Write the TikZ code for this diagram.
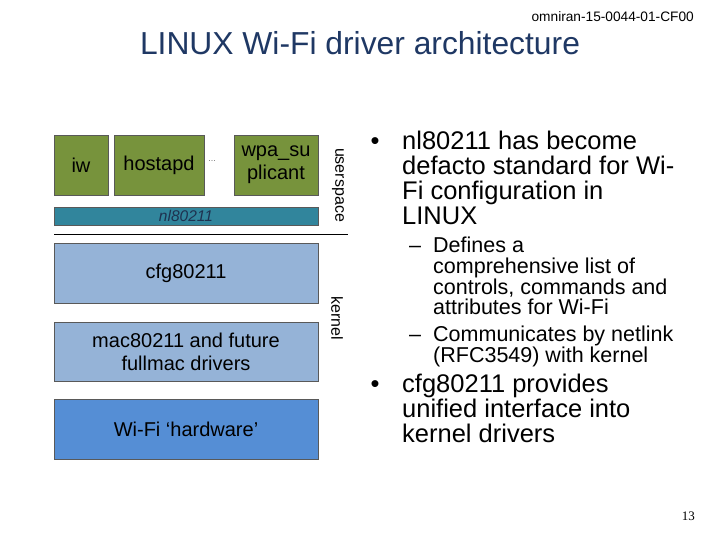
\documentclass[tikz,border=0pt]{standalone}
\usepackage{fontspec}
\setmainfont{Liberation Sans}
\newfontfamily\pagenumfont{Liberation Serif}
\definecolor{olivebox}{RGB}{119,147,60}
\definecolor{tealbar}{RGB}{49,133,156}
\definecolor{lightbluebox}{RGB}{149,179,215}
\definecolor{hwblue}{RGB}{85,142,213}
\definecolor{titleblue}{RGB}{31,56,100}
\definecolor{nltext}{RGB}{30,50,80}
\begin{document}
\begin{tikzpicture}[x=1pt,y=-1pt,
  box/.style={draw=black!65, line width=0.6pt, inner sep=0pt, align=center,
    font=\fontsize{20}{23}\selectfont},
  olive/.style={box, fill=olivebox, minimum height=60pt},
  kbox/.style={box, fill=lightbluebox, minimum width=264pt},
  sidelabel/.style={rotate=-90, inner sep=0pt, font=\fontsize{16}{16}\selectfont},
  mainline/.style={anchor=base west, inner sep=0pt, font=\fontsize{25.5}{25}\selectfont},
  subline/.style={anchor=base west, inner sep=0pt, font=\fontsize{21.5}{21}\selectfont},
  bulletmark/.style={anchor=base, inner sep=0pt, font=\fontsize{25.5}{25}\selectfont},
  dashmark/.style={anchor=base west, inner sep=0pt, font=\fontsize{21.5}{21}\selectfont}]
\useasboundingbox (0,0) rectangle (720,540);

% header and title
\node[anchor=base east, inner sep=0pt, font=\fontsize{13.7}{14}\selectfont] (hdr) at (694,22) {omniran-15-0044-01-CF00};
\node[anchor=base, inner sep=0pt, text=titleblue, font=\fontsize{31.8}{32}\selectfont] (title) at (360,55) {LINUX Wi-Fi driver architecture};

% userspace
\node[olive, minimum width=54pt] (iw) at (81,165) {iw};
\node[olive, minimum width=90pt] (hostapd) at (159,165) {hostapd};
\node[inner sep=0pt, text=black!55, font=\fontsize{9}{9}\selectfont] (dots) at (212,161) {...};
\node[olive, minimum width=84pt] (wpa) at (276,165) {wpa\_su\\plicant};
\node[box, fill=tealbar, minimum width=264pt, minimum height=18pt, text=nltext,
  font=\itshape\fontsize{15.5}{16}\selectfont] (nl) at (186,216) {nl80211};
\node[sidelabel] (us) at (338,185) {userspace};

\coordinate (sepL) at (54,234);
\coordinate (sepR) at (348,234);
\draw[line width=0.8pt] (sepL) -- (sepR);

% kernel
\node[kbox, minimum height=60pt] (cfg) at (186,273) {cfg80211};
\node[kbox, minimum height=59pt] (mac) at (186,351.5) {mac80211 and future\\fullmac drivers};
\node[box, fill=hwblue, minimum width=264pt, minimum height=60pt] (hw) at (186,429) {Wi-Fi ‘hardware’};
\node[sidelabel] (kern) at (337,318) {kernel};

% bullets
\node[bulletmark] (b1) at (375,150) {•};
\node[mainline] (t11) at (402,150) {nl80211 has become};
\node[mainline] (t12) at (402,175) {defacto standard for Wi-};
\node[mainline] (t13) at (402,200) {Fi configuration in};
\node[mainline] (t14) at (402,225) {LINUX};

\node[dashmark] (d1) at (409,252) {–};
\node[subline] (s11) at (433,252) {Defines a};
\node[subline] (s12) at (433,273) {comprehensive list of};
\node[subline] (s13) at (433,294) {controls, commands and};
\node[subline] (s14) at (433,314) {attributes for Wi-Fi};
\node[dashmark] (d2) at (409,341) {–};
\node[subline] (s21) at (433,341) {Communicates by netlink};
\node[subline] (s22) at (433,362) {(RFC3549) with kernel};

\node[bulletmark] (b2) at (375,392) {•};
\node[mainline] (t21) at (402,392) {cfg80211 provides};
\node[mainline] (t22) at (402,417) {unified interface into};
\node[mainline] (t23) at (402,442) {kernel drivers};

\node[anchor=base east, inner sep=0pt, font=\pagenumfont\fontsize{13}{13}\selectfont] (pg) at (695,520) {13};
\end{tikzpicture}
\end{document}
